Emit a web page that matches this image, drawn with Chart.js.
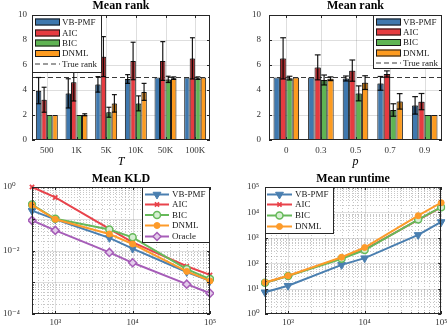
<!DOCTYPE html>
<html><head><meta charset="utf-8">
<script src="https://cdn.jsdelivr.net/npm/chart.js@4/dist/chart.umd.min.js"></script>
<style>
html,body{margin:0;padding:0;background:#fff;}
#wrap{position:relative;width:447px;height:335px;overflow:hidden;background:#fff;}
canvas{position:absolute;}
</style></head><body>
<div id="wrap">
<canvas id="cA" width="224" height="168" style="left:0;top:0;width:224px;height:168px"></canvas>
<canvas id="cB" width="223" height="168" style="left:224px;top:0;width:223px;height:168px"></canvas>
<canvas id="cC" width="224" height="167" style="left:0;top:168px;width:224px;height:167px"></canvas>
<canvas id="cD" width="223" height="167" style="left:224px;top:168px;width:223px;height:167px"></canvas>
</div>
<script>
// ---------------- DATA ----------------
const METHODS = ['VB-PMF', 'AIC', 'BIC', 'DNML'];
const TRUE_RANK = 5;

// Mean rank vs T
const T_LABELS = ['500', '1K', '5K', '10K', '50K', '100K'];
const rankT_vb    = [3.95, 3.73, 4.45, 4.88, 5.00, 5.00];
const rankT_aic   = [3.22, 4.62, 6.67, 6.32, 6.32, 6.53];
const rankT_bic   = [2.00, 2.00, 2.22, 2.93, 4.85, 4.95];
const rankT_dnml  = [2.00, 2.02, 2.93, 3.85, 4.95, 5.00];
const rankT_vb_err   = [1.05, 1.17, 0.62, 0.35, 0, 0];
const rankT_aic_err  = [1.00, 1.50, 1.60, 1.50, 1.55, 1.65];
const rankT_bic_err  = [0, 0, 0.40, 0.60, 0.25, 0.10];
const rankT_dnml_err = [0, 0.08, 0.70, 0.68, 0.10, 0];

// Mean rank vs p
const P_LABELS = ['0', '0.3', '0.5', '0.7', '0.9'];
const rankP_vb    = [5.00, 5.00, 4.92, 4.53, 2.77];
const rankP_aic   = [6.53, 5.81, 5.55, 5.28, 3.07];
const rankP_bic   = [4.95, 4.80, 3.73, 2.40, 2.00];
const rankP_dnml  = [5.00, 4.90, 4.59, 3.09, 2.00];
const rankP_vb_err   = [0, 0, 0.20, 0.55, 0.70];
const rankP_aic_err  = [1.65, 1.00, 0.85, 0.25, 0.65];
const rankP_bic_err  = [0.15, 0.40, 0.60, 0.50, 0];
const rankP_dnml_err = [0, 0.15, 0.55, 0.62, 0];

// Mean KLD and runtime vs number of samples
const N_SAMPLES = [500, 1000, 5000, 10000, 50000, 100000];
const kld_vb     = [0.18, 0.096, 0.025, 0.0115, 0.0021, 0.0011];
const kld_aic    = [1.0, 0.47, 0.048, 0.018, 0.0032, 0.0017];
const kld_bic    = [0.28, 0.10, 0.046, 0.026, 0.0026, 0.00126];
const kld_dnml   = [0.27, 0.096, 0.033, 0.016, 0.0022, 0.0011];
const kld_oracle = [0.089, 0.043, 0.0087, 0.0041, 0.00087, 0.00045];

const rt_vb   = [7.2, 13, 86, 158, 1300, 4200];
const rt_aic  = [17, 31.6, 158, 340, 5100, 15800];
const rt_bic  = [17, 31, 150, 330, 5200, 16000];
const rt_dnml = [17.5, 32, 172, 415, 7400, 24000];

// ---------------- STYLE ----------------
const SERIF = '"Liberation Serif","DejaVu Serif",serif';
const BAR_COLORS = ['#3f78ae', '#e63b40', '#5fb453', '#fd9b20'];
const C_VB = '#4a7fb0', C_AIC = '#e8434b', C_BIC = '#66b95a', C_DNML = '#fd9b2a', C_OR = '#a65db8';
const TICK_COLOR = '#333';

function isPow10(v){ const l = Math.log10(v); return Math.abs(l - Math.round(l)) < 1e-6; }
const SUP = {'0':'⁰','1':'¹','2':'²','3':'³','4':'⁴','5':'⁵','6':'⁶','7':'⁷','8':'⁸','9':'⁹','-':'⁻'};
function powLabel(v){ const e = Math.round(Math.log10(v)); return '10' + String(e).split('').map(c => SUP[c]).join(''); }
function logTicks(s){
  const t = [];
  const e0 = Math.floor(Math.log10(s.min) + 1e-9), e1 = Math.ceil(Math.log10(s.max) - 1e-9);
  for (let e = e0; e <= e1; e++) for (let m = 1; m < 10; m++) {
    const v = m * Math.pow(10, e);
    if (v >= s.min * (1 - 1e-9) && v <= s.max * (1 + 1e-9)) t.push({value: v});
  }
  s.ticks = t;
}

function drawMarker(ctx, style, x, y, r, rot){
  ctx.beginPath();
  if (style === 'triangle') {
    const s = rot ? -1 : 1;
    ctx.moveTo(x, y - s * r); ctx.lineTo(x + r * 0.87, y + s * r * 0.5); ctx.lineTo(x - r * 0.87, y + s * r * 0.5); ctx.closePath();
    ctx.fill(); ctx.stroke();
  } else if (style === 'crossRot') {
    ctx.moveTo(x - r * 0.7, y - r * 0.7); ctx.lineTo(x + r * 0.7, y + r * 0.7);
    ctx.moveTo(x + r * 0.7, y - r * 0.7); ctx.lineTo(x - r * 0.7, y + r * 0.7); ctx.stroke();
  } else if (style === 'rectRot') {
    ctx.moveTo(x, y - r); ctx.lineTo(x + r, y); ctx.lineTo(x, y + r); ctx.lineTo(x - r, y); ctx.closePath();
    ctx.fill(); ctx.stroke();
  } else {
    ctx.arc(x, y, r, 0, Math.PI * 2); ctx.fill(); ctx.stroke();
  }
}

function makeDecor(cfg){
  const line = (ctx, x1, y1, x2, y2) => { ctx.beginPath(); ctx.moveTo(x1, y1); ctx.lineTo(x2, y2); ctx.stroke(); };
  return {
    id: 'decor',
    beforeDatasetsDraw(chart){
      const ctx = chart.ctx, a = chart.chartArea, xs = chart.scales.x, ys = chart.scales.y;
      ctx.save();
      ctx.beginPath(); ctx.rect(a.left, a.top, a.right - a.left, a.bottom - a.top); ctx.clip();
      const style = (major) => {
        ctx.lineWidth = 1;
        if (major) { ctx.setLineDash([]); ctx.strokeStyle = 'rgba(0,0,0,0.13)'; }
        else { ctx.setLineDash([1, 2]); ctx.strokeStyle = 'rgba(0,0,0,0.22)'; }
      };
      xs.ticks.forEach((t, i) => { const px = Math.round(xs.getPixelForTick(i)) + 0.5; style(xs.type !== 'logarithmic' || isPow10(t.value)); line(ctx, px, a.top, px, a.bottom); });
      ys.ticks.forEach((t, i) => { const py = Math.round(ys.getPixelForTick(i)) + 0.5; style(ys.type !== 'logarithmic' || isPow10(t.value)); line(ctx, a.left, py, a.right, py); });
      if (cfg.refValue != null) {
        const py = ys.getPixelForValue(cfg.refValue);
        ctx.setLineDash([5, 3]); ctx.strokeStyle = '#3a3a3a'; ctx.lineWidth = 1.2;
        line(ctx, a.left, py, a.right, py);
      }
      ctx.restore();
    },
    afterDatasetsDraw(chart){
      const ctx = chart.ctx, a = chart.chartArea, xs = chart.scales.x, ys = chart.scales.y;
      ctx.save();
      if (cfg.errors) {
        chart.data.datasets.forEach((ds, di) => {
          const meta = chart.getDatasetMeta(di);
          meta.data.forEach((bar, j) => {
            const e = cfg.errors[di][j]; if (!e) return;
            const m = ds.data[j];
            const yl = ys.getPixelForValue(m - e), yu = ys.getPixelForValue(m + e), ym = ys.getPixelForValue(m);
            const w = bar.width;
            ctx.fillStyle = 'rgba(0,0,0,0.3)';
            ctx.fillRect(bar.x - w / 2 + 1, ym, w - 2, yl - ym);
            ctx.strokeStyle = 'rgba(0,0,0,0.9)'; ctx.lineWidth = 1.2; ctx.setLineDash([]);
            line(ctx, bar.x, yl, bar.x, yu);
            line(ctx, bar.x - w * 0.45, yu, bar.x + w * 0.45, yu);
            line(ctx, bar.x - w * 0.45, yl, bar.x + w * 0.45, yl);
          });
        });
      }
      // tick marks inside
      ctx.strokeStyle = '#262626'; ctx.lineWidth = 1; ctx.setLineDash([]);
      xs.ticks.forEach((t, i) => {
        const px = Math.round(xs.getPixelForTick(i)) + 0.5;
        const L = (xs.type !== 'logarithmic' || isPow10(t.value)) ? 3 : 1.6;
        line(ctx, px, a.bottom, px, a.bottom - L); line(ctx, px, a.top, px, a.top + L);
      });
      ys.ticks.forEach((t, i) => {
        const py = Math.round(ys.getPixelForTick(i)) + 0.5;
        const L = (ys.type !== 'logarithmic' || isPow10(t.value)) ? 3 : 1.6;
        line(ctx, a.left, py, a.left + L, py); line(ctx, a.right, py, a.right - L, py);
      });
      // frame
      ctx.strokeRect(Math.round(a.left) + 0.5, Math.round(a.top) + 0.5, Math.round(a.right - a.left) - 1, Math.round(a.bottom - a.top) - 1);
      ctx.restore();
    },
    afterDraw(chart){
      const L = cfg.legend; if (!L) return;
      const ctx = chart.ctx;
      ctx.save();
      ctx.fillStyle = '#fff'; ctx.fillRect(L.x, L.y, L.w, L.h);
      ctx.strokeStyle = '#262626'; ctx.lineWidth = 1; ctx.strokeRect(L.x + 0.5, L.y + 0.5, L.w - 1, L.h - 1);
      ctx.font = '9px ' + SERIF; ctx.textBaseline = 'middle'; ctx.textAlign = 'left';
      const items = chart.data.datasets.map(ds => ({label: ds.label, ds}));
      if (cfg.refValue != null) items.push({label: 'True rank', ref: true});
      items.forEach((it, i) => {
        const y = L.rows[i];
        if (it.ref) {
          ctx.strokeStyle = '#3a3a3a'; ctx.lineWidth = 1.2; ctx.setLineDash([5, 3]);
          line(ctx, L.sx, y, L.sx + L.sw, y); ctx.setLineDash([]);
        } else if (cfg.kind === 'bar') {
          ctx.fillStyle = it.ds.backgroundColor; ctx.fillRect(L.sx, y - 3.5, L.sw, 7);
          ctx.strokeStyle = '#1a1a1a'; ctx.lineWidth = 1; ctx.strokeRect(L.sx + 0.5, y - 3.5 + 0.5, L.sw - 1, 6);
        } else {
          const ds = it.ds;
          ctx.strokeStyle = ds.borderColor; ctx.lineWidth = 2; ctx.setLineDash([]);
          line(ctx, L.sx, y, L.sx + L.sw, y);
          ctx.fillStyle = ds.pointBackgroundColor; ctx.lineWidth = ds.pointBorderWidth;
          drawMarker(ctx, ds.pointStyle, L.sx + L.sw / 2, y, ds.pointRadius, ds.pointRotation === 180);
        }
        ctx.fillStyle = '#1a1a1a';
        ctx.fillText(it.label, L.tx, y + 0.5);
      });
      ctx.restore();
    }
  };
}

function tickFont(){ return {family: SERIF, size: 9}; }

function barChart(id, labels, series, errs, axisTitle, dims, legend){
  const datasets = series.map((d, i) => ({
    label: METHODS[i], data: d, backgroundColor: BAR_COLORS[i], borderColor: '#1a1a1a', borderWidth: 1,
    categoryPercentage: 0.74, barPercentage: 1.0
  }));
  return new Chart(document.getElementById(id), {
    type: 'bar',
    data: {labels, datasets},
    plugins: [makeDecor({errors: errs, refValue: TRUE_RANK, kind: 'bar', legend})],
    options: {
      responsive: false, animation: false, devicePixelRatio: 1,
      layout: {padding: {left: dims.padL, right: dims.padR, top: 0, bottom: 0}},
      plugins: {
        legend: {display: false}, tooltip: {enabled: false},
        title: {display: true, fullSize: false, text: 'Mean rank', color: '#000',
          font: {family: SERIF, size: 12, weight: 'bold', lineHeight: 1}, padding: {top: 0, bottom: 3}}
      },
      scales: {
        x: {
          grid: {display: false, drawTicks: false}, border: {display: false},
          ticks: {font: tickFont(), color: TICK_COLOR, padding: 5, maxRotation: 0, autoSkip: false},
          title: {display: true, text: axisTitle, color: '#000', font: {family: SERIF, size: 12, style: 'italic', lineHeight: 1}, padding: {top: 0, bottom: 0}},
          afterFit(s){ s.height = dims.xH; s.paddingLeft = 0; s.paddingRight = 0; }
        },
        y: {
          min: 0, max: 10,
          grid: {display: false, drawTicks: false}, border: {display: false},
          ticks: {stepSize: 2, font: tickFont(), color: TICK_COLOR, padding: dims.yPad},
          afterFit(s){ s.width = dims.yW; s.paddingTop = 0; s.paddingBottom = 0; }
        }
      }
    }
  });
}

function lineDs(label, xs, ys, color, pstyle, radius, bg, bw, rot){
  return {
    label, data: xs.map((x, i) => ({x, y: ys[i]})),
    borderColor: color, backgroundColor: color, borderWidth: 2,
    pointStyle: pstyle, pointRadius: radius, pointBackgroundColor: bg, pointBorderColor: color,
    pointBorderWidth: bw, pointRotation: rot || 0, tension: 0, clip: 4
  };
}

function logChart(id, title, datasets, yMin, yMax, yLabelStep, dims, legend){
  datasets.forEach((d, i) => { d.order = datasets.length - i; });
  return new Chart(document.getElementById(id), {
    type: 'line',
    data: {datasets},
    plugins: [makeDecor({kind: 'line', legend})],
    options: {
      responsive: false, animation: false, devicePixelRatio: 1,
      layout: {padding: {left: dims.padL, right: dims.padR, top: 0, bottom: 0}},
      plugins: {
        legend: {display: false}, tooltip: {enabled: false},
        title: {display: true, fullSize: false, text: title, color: '#000',
          font: {family: SERIF, size: 12, weight: 'bold', lineHeight: 1}, padding: {top: 5, bottom: 2}}
      },
      scales: {
        x: {
          type: 'logarithmic', min: 500, max: 100000, position: 'bottom',
          grid: {display: false, drawTicks: false}, border: {display: false},
          afterBuildTicks: logTicks,
          ticks: {font: tickFont(), color: TICK_COLOR, padding: 3, maxRotation: 0, autoSkip: false,
            callback: v => isPow10(v) ? powLabel(v) : ''},
          afterFit(s){ s.height = dims.xH; s.paddingLeft = 0; s.paddingRight = 0; }
        },
        y: {
          type: 'logarithmic', min: yMin, max: yMax,
          grid: {display: false, drawTicks: false}, border: {display: false},
          afterBuildTicks: logTicks,
          ticks: {font: tickFont(), color: TICK_COLOR, padding: 3, autoSkip: false, crossAlign: 'far',
            callback: v => (isPow10(v) && Math.round(Math.log10(v)) % yLabelStep === 0) ? powLabel(v) : ''},
          afterFit(s){ s.width = dims.yW; s.paddingTop = 0; s.paddingBottom = 0; }
        }
      }
    }
  });
}

// ---------------- CHARTS ----------------
barChart('cA', T_LABELS, [rankT_vb, rankT_aic, rankT_bic, rankT_dnml],
  [rankT_vb_err, rankT_aic_err, rankT_bic_err, rankT_dnml_err], 'T',
  {padL: 0, padR: 14, yW: 32, yPad: 5, xH: 28},
  {x: 32, y: 15, w: 70, h: 58, rows: [22, 33, 43, 53.5, 64], sx: 35, sw: 25, tx: 62});

barChart('cB', P_LABELS, [rankP_vb, rankP_aic, rankP_bic, rankP_dnml],
  [rankP_vb_err, rankP_aic_err, rankP_bic_err, rankP_dnml_err], 'p',
  {padL: 0, padR: 5, yW: 45, yPad: 8, xH: 28},
  {x: 149, y: 15, w: 69, h: 54, rows: [22, 32, 42.5, 53, 63], sx: 152, sw: 25, tx: 179});

logChart('cC', 'Mean KLD', [
  lineDs('VB-PMF', N_SAMPLES, kld_vb, C_VB, 'triangle', 4.5, C_VB, 1, 180),
  lineDs('AIC', N_SAMPLES, kld_aic, C_AIC, 'crossRot', 3, C_AIC, 1.8),
  lineDs('BIC', N_SAMPLES, kld_bic, C_BIC, 'circle', 3.5, '#d6eed2', 1.5),
  lineDs('DNML', N_SAMPLES, kld_dnml, C_DNML, 'circle', 3, C_DNML, 1),
  lineDs('Oracle', N_SAMPLES, kld_oracle, C_OR, 'rectRot', 4, '#e3cdea', 1.5)
], 1e-4, 1, 2, {padL: 3, padR: 14, yW: 29, xH: 21},
  {x: 142, y: 19, w: 68, h: 56, rows: [26.5, 36.5, 47, 57.5, 68.5], sx: 145, sw: 24, tx: 172});

logChart('cD', 'Mean runtime', [
  lineDs('VB-PMF', N_SAMPLES, rt_vb, C_VB, 'triangle', 4.5, C_VB, 1, 180),
  lineDs('AIC', N_SAMPLES, rt_aic, C_AIC, 'crossRot', 3, C_AIC, 1.8),
  lineDs('BIC', N_SAMPLES, rt_bic, C_BIC, 'circle', 3.5, '#d6eed2', 1.5),
  lineDs('DNML', N_SAMPLES, rt_dnml, C_DNML, 'circle', 3, C_DNML, 1)
], 1, 1e5, 1, {padL: 23, padR: 4, yW: 18, xH: 21},
  {x: 41, y: 19, w: 69, h: 47, rows: [26.5, 36.5, 47.5, 58.5], sx: 43, sw: 25, tx: 71});
</script>
</body></html>
